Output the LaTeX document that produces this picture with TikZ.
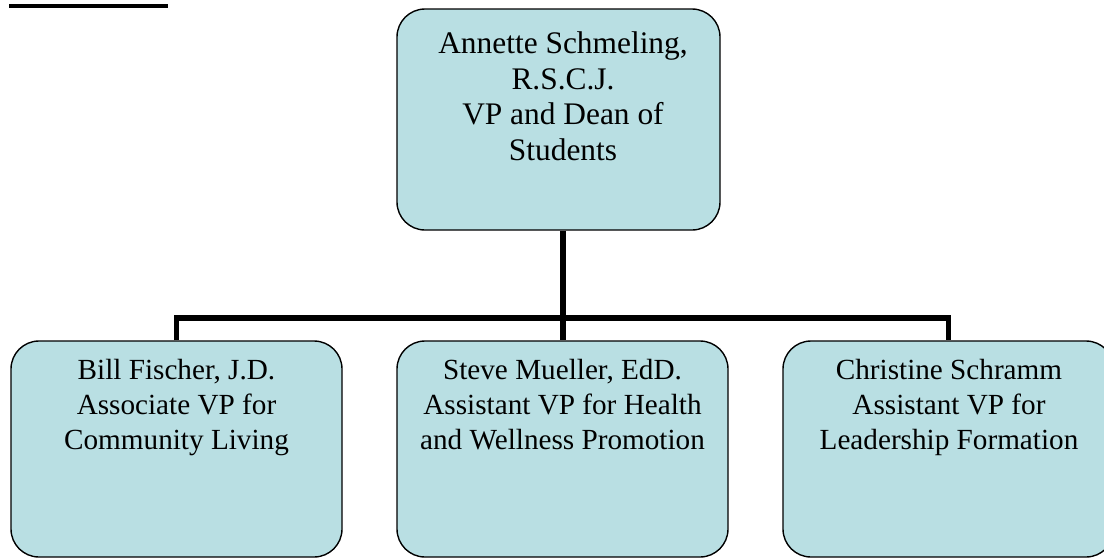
\documentclass[tikz,border=0pt]{standalone}
\usepackage{fontspec}
\setmainfont{Liberation Serif}
\definecolor{boxfill}{RGB}{185,223,227}
\begin{document}
\begin{tikzpicture}[x=0.5pt,y=-0.5pt,
  box/.style={draw=black, line width=0.7pt, fill=boxfill, rounded corners=14pt, inner sep=0pt},
  topbox/.style={box, minimum width=161.5pt, minimum height=110.5pt},
  subbox/.style={box, minimum width=165.5pt, minimum height=108pt},
  toptxt/.style={anchor=north, inner sep=0pt, align=center, font=\fontsize{15.7pt}{17.75pt}\selectfont},
  subtxt/.style={anchor=north, inner sep=0pt, align=center, font=\fontsize{14.6pt}{17.5pt}\selectfont},
  conn/.style={line width=2.75pt, line join=miter}]
\useasboundingbox (0,0) rectangle (1104,558);
\clip (0,0) rectangle (1104,558);
% cut-off heading underline
\fill[black] (9,4) rectangle (168,7.7);
% boxes
\node[topbox] (top) at (558.5,119.5) {};
\node[subbox] (l) at (176.5,449) {};
\node[subbox] (m) at (562.5,449) {};
\node[subbox] (r) at (948.5,449) {};
% connectors
\coordinate (bus) at (563,318);
\draw[conn] (bus |- top.south) -- (bus);
\draw[conn] (l.north) |- (bus) -| (r.north);
\draw[conn] (bus) -- (bus |- m.north);
% texts
\node[toptxt] (t0) at (563,31.6) {Annette Schmeling,\\R.S.C.J.\\VP and Dean of\\Students};
\node[subtxt] (t1) at (176.5,358.6) {Bill Fischer, J.D.\\Associate VP for\\Community Living};
\node[subtxt] (t2) at (562.5,358.6) {Steve Mueller, EdD.\\Assistant VP for Health\\and Wellness Promotion};
\node[subtxt] (t3) at (949,358.6) {Christine Schramm\\Assistant VP for\\Leadership Formation};
\end{tikzpicture}
\end{document}
